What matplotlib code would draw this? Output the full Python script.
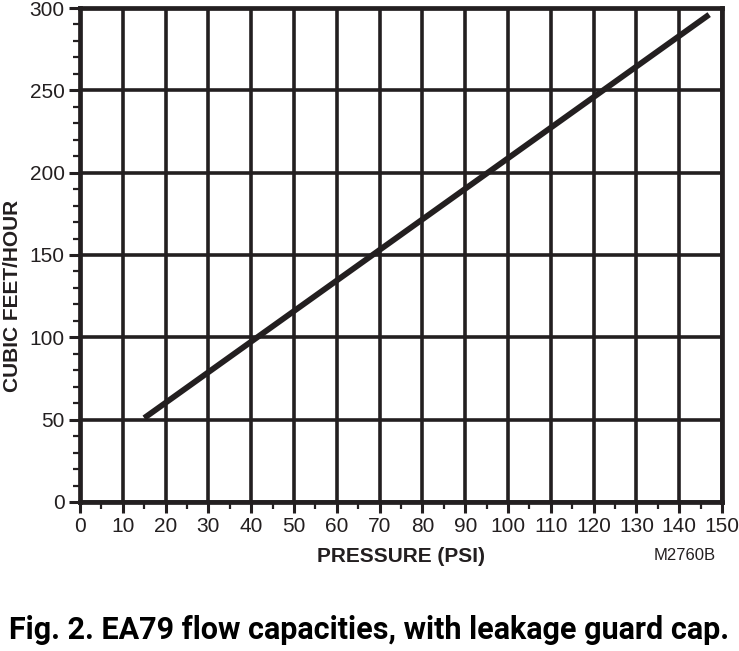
import matplotlib.pyplot as plt
from matplotlib.ticker import MultipleLocator

# ── Data ──────────────────────────────────────────────────────────────────────

pressure_psi = [15, 147]
flow_cfh     = [51, 296]

x_ticks = list(range(0, 151, 10))
y_ticks = list(range(0, 301, 50))

INK = "#231f20"

# ── Figure ────────────────────────────────────────────────────────────────────

plt.rcParams["font.family"] = ["Liberation Sans", "DejaVu Sans"]

fig = plt.figure(figsize=(7.39, 6.51), dpi=100)
ax = fig.add_axes([0.1083, 0.2289, 0.977 - 0.1083, 0.9877 - 0.2289])

ax.set_xlim(0, 150)
ax.set_ylim(0, 300)
ax.set_xticks(x_ticks)
ax.set_yticks(y_ticks)
ax.xaxis.set_minor_locator(MultipleLocator(5))
ax.yaxis.set_minor_locator(MultipleLocator(10))

# heavy grid
ax.grid(True, which="major", color=INK, linewidth=2.6)
ax.set_axisbelow(True)

for side in ax.spines.values():
    side.set_color(INK)
    side.set_linewidth(3.4)

ax.tick_params(axis="both", which="major", color=INK, width=2.2, length=8,
               labelsize=15, labelcolor=INK, pad=3)
ax.tick_params(axis="both", which="minor", color=INK, width=1.6, length=5)

ax.plot(pressure_psi, flow_cfh, color=INK, linewidth=4.2, solid_capstyle="butt")

ax.set_xlabel("PRESSURE (PSI)", fontsize=15, fontweight="bold", color=INK,
              labelpad=8)
ax.set_ylabel("CUBIC FEET/HOUR", fontsize=15, fontweight="bold", color=INK)
ax.yaxis.set_label_coords(-0.090, 0.417)

fig.text(685 / 739, 1 - 556 / 651, "M2760B", fontsize=12, color=INK,
         ha="center", va="center")

fig.text(369 / 739, 1 - 630 / 651,
         "Fig. 2. EA79 flow capacities, with leakage guard cap.",
         fontsize=22, fontweight="bold", family=["Roboto", "DejaVu Sans"],
         color="black", ha="center", va="center")

fig.savefig("out.png", dpi=100)
